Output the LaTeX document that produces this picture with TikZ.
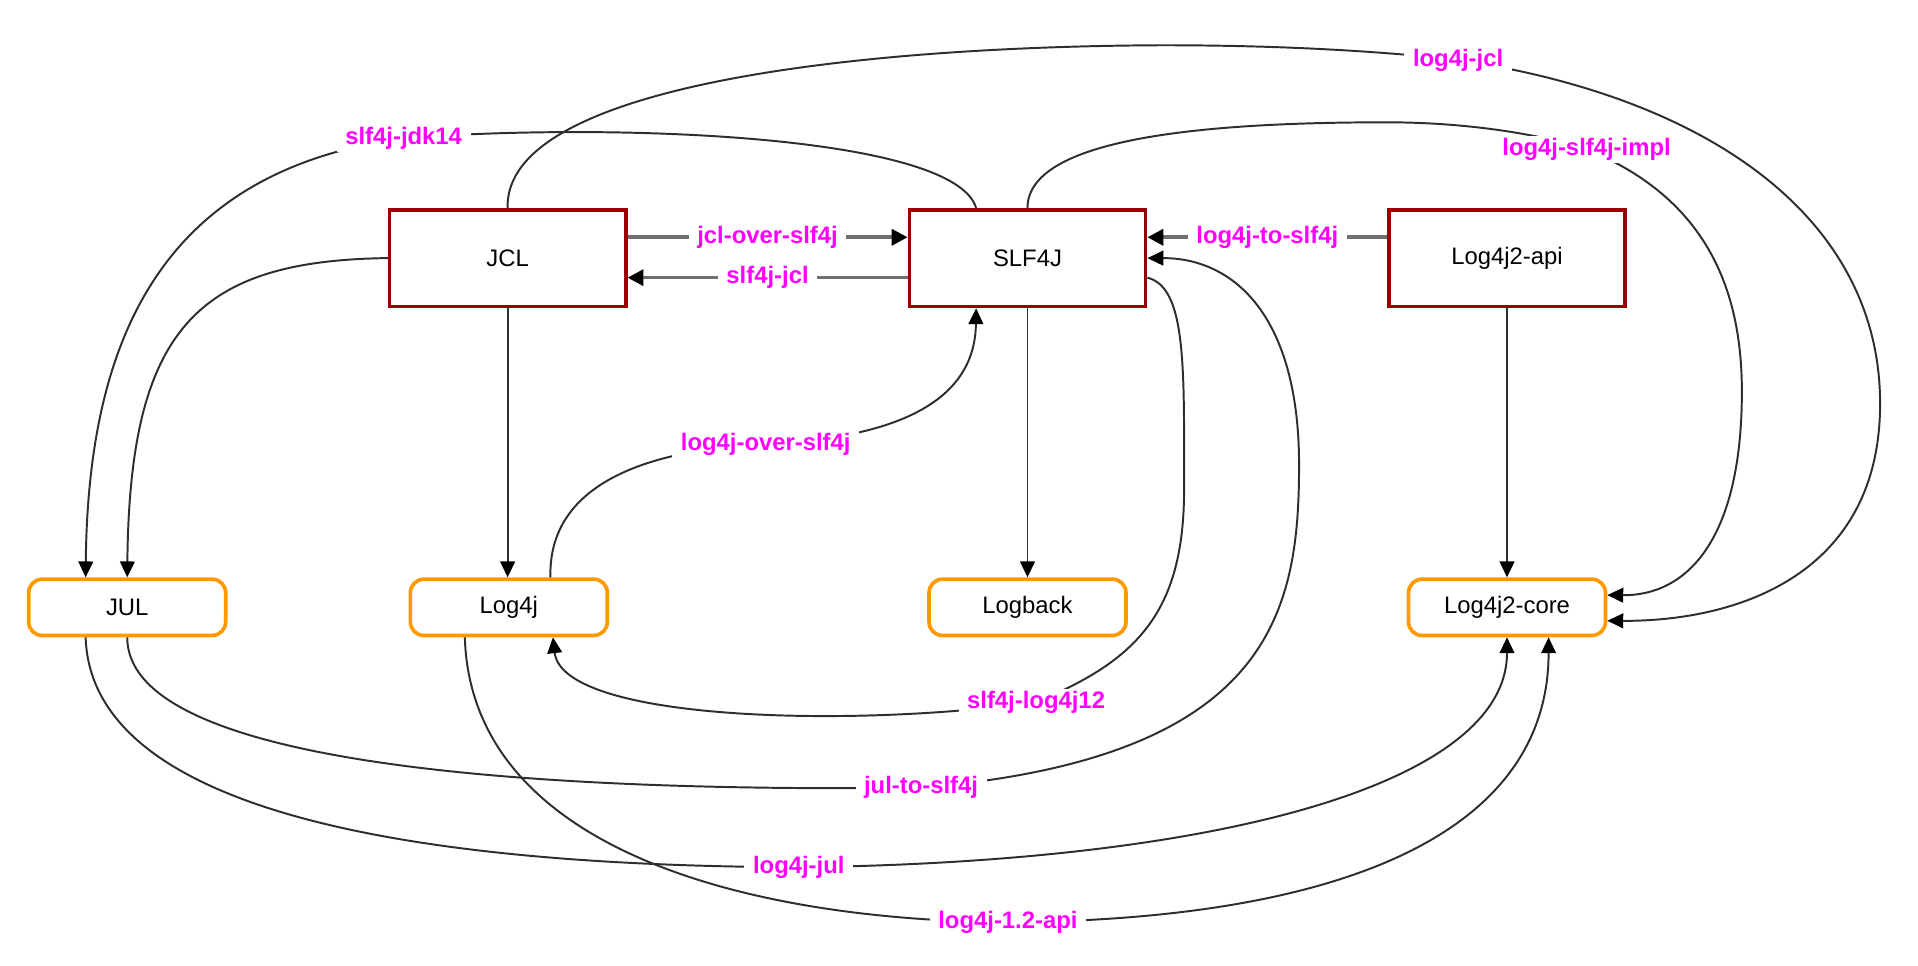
\documentclass[tikz,border=0pt]{standalone}
\usepackage{fontspec}
\setmainfont{Liberation Sans}
\usetikzlibrary{arrows.meta}
\definecolor{boxred}{HTML}{990000}
\definecolor{boxorange}{HTML}{FF9900}
\definecolor{lblmag}{HTML}{FF00FF}
\definecolor{edgegray}{HTML}{2E2E2E}
\definecolor{straightgray}{HTML}{707070}
\begin{document}
\begin{tikzpicture}[x=0.5pt,y=-0.5pt,
  every node/.style={font=\fontsize{9.75}{11.7}\selectfont},
  apibox/.style={draw=boxred,line width=1.5pt,fill=white,minimum width=96.5pt,minimum height=39.5pt,inner sep=0pt},
  implbox/.style={draw=boxorange,line width=1.5pt,rounded corners=5.5pt,fill=white,minimum width=80.5pt,minimum height=23pt,inner sep=0pt},
  lbl/.style={text=lblmag,font=\fontsize{9.75}{11.7}\selectfont\bfseries,fill=white,inner xsep=3.5pt,inner ysep=1pt},
  link/.style={draw=edgegray,line width=0.8pt,-{Triangle[length=6.5pt,width=6pt,fill=black,color=black]}},
  straight/.style={draw=straightgray,line width=1.5pt,-{Triangle[length=6.5pt,width=6.5pt,fill=black,color=black]}}
]
\useasboundingbox (0,0) rectangle (1568,789.7);

% nodes
\node[apibox] (jcl) at (415,211) {JCL};
\node[apibox] (slf) at (840,211) {SLF4J};
\node[apibox] (api) at (1232,211) {Log4j2-api};
\node[implbox] (jul) at (104,496.5) {JUL};
\node[implbox] (log4j) at (416,496.5) {Log4j};
\node[implbox] (logback) at (840,496.5) {Logback};
\node[implbox] (core) at (1232,496.5) {Log4j2-core};

% straight connectors
\draw[straight] ([yshift=8.5pt]jcl.east) -- node[lbl]{jcl-over-slf4j} ([yshift=8.5pt]slf.west);
\draw[straight] ([yshift=-8pt]slf.west) -- node[lbl]{slf4j-jcl} ([yshift=-8pt]jcl.east);
\draw[straight] ([yshift=8.5pt]api.west) -- node[lbl]{log4j-to-slf4j} ([yshift=8.5pt]slf.east);

\draw[link] (jcl.south) -- (jcl.south |- log4j.north);
\draw[link] (slf.south) -- (logback.north);
\draw[link] (api.south) -- (core.north);

% JCL -> JUL
\draw[link] (jcl.west) .. controls (160,213) and (106,270) .. ([xshift=0pt]jul.north);

% slf4j-jdk14
\draw[link] ([xshift=-21pt]slf.north) .. controls (780,110) and (500,100) .. (330,113)
  node[lbl]{slf4j-jdk14}
  .. controls (130,140) and (72,280) .. ([xshift=-17pt]jul.north);

% log4j-jcl
\draw[link] (jcl.north) .. controls (412,70) and (700,38) .. (950,37)
  .. controls (1050,37) and (1130,42) .. (1192,49) node[lbl]{log4j-jcl}
  .. controls (1400,80) and (1537,180) .. (1537,330)
  .. controls (1537,470) and (1420,508) .. ([yshift=-5.5pt]core.east);

% log4j-slf4j-impl
\draw[link] (slf.north) .. controls (840,110) and (1000,100) .. (1134,100)
  .. controls (1200,100) and (1260,110) .. (1297,122) node[lbl]{log4j-slf4j-impl}
  .. controls (1390,160) and (1424,230) .. (1424,320)
  .. controls (1424,440) and (1380,487) .. ([yshift=5pt]core.east);

% log4j-over-slf4j
\draw[link] ([xshift=17pt]log4j.north) .. controls (448,400) and (520,368) .. (626,363)
  node[lbl]{log4j-over-slf4j}
  .. controls (730,358) and (797,330) .. ([xshift=-21pt]slf.south);

% slf4j-log4j12
\draw[link] ([yshift=-8pt]slf.east) .. controls (970,235) and (968,300) .. (968,400)
  .. controls (968,500) and (930,540) .. (847,574) node[lbl]{slf4j-log4j12}
  .. controls (700,595) and (460,590) .. ([xshift=18pt]log4j.south);

% jul-to-slf4j
\draw[link] (jul.south) .. controls (104,620) and (400,648) .. (753,644)
  node[lbl]{jul-to-slf4j}
  .. controls (1040,620) and (1062,500) .. (1062,380)
  .. controls (1062,260) and (1010,211) .. (slf.east);

% log4j-jul
\draw[link] ([xshift=-17pt]jul.south) .. controls (75,680) and (400,708) .. (653,709)
  node[lbl]{log4j-jul}
  .. controls (1000,705) and (1232,640) .. (core.south);

% log4j-1.2-api
\draw[link] ([xshift=-18pt]log4j.south) .. controls (385,690) and (600,752) .. (824,754)
  node[lbl]{log4j-1.2-api}
  .. controls (1100,752) and (1266,680) .. ([xshift=17pt]core.south);
\end{tikzpicture}
\end{document}
